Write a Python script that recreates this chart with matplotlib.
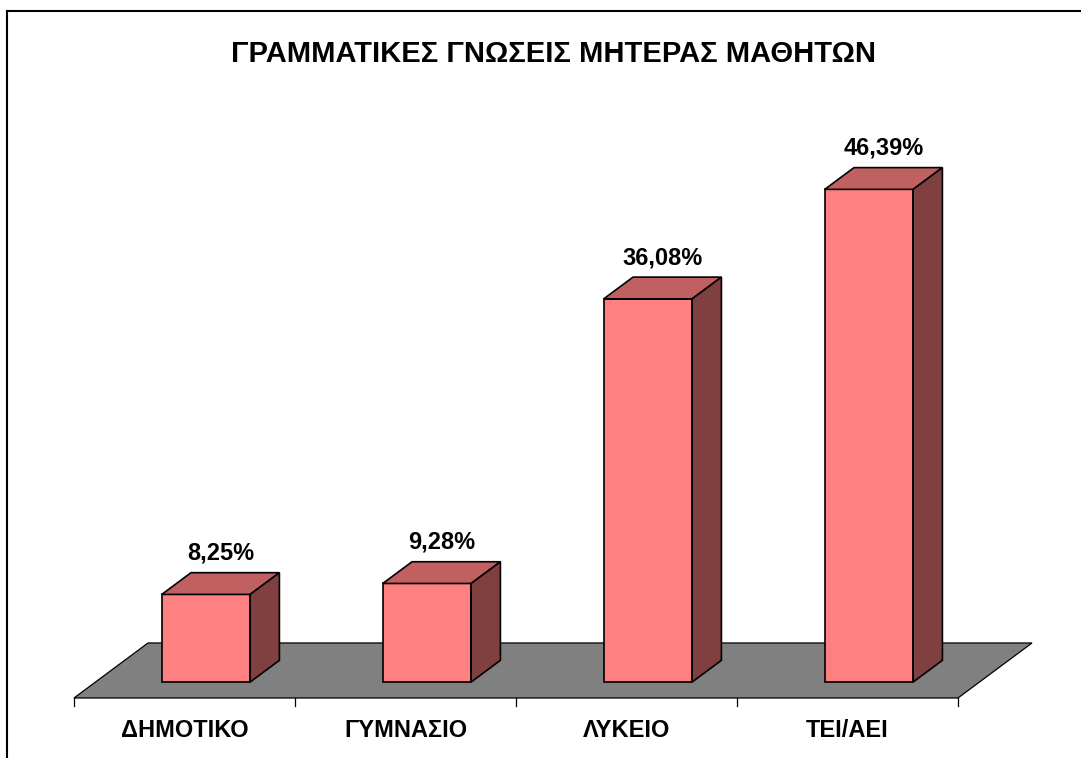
import matplotlib
matplotlib.use('Agg')
import matplotlib.pyplot as plt
from matplotlib.patches import Polygon
from matplotlib.lines import Line2D

plt.rcParams['font.family'] = ['Liberation Sans', 'DejaVu Sans']

# data
categories = ['ΔΗΜΟΤΙΚΟ', 'ΓΥΜΝΑΣΙΟ', 'ΛΥΚΕΙΟ', 'ΤΕΙ/ΑΕΙ']
values = [8.25, 9.28, 36.08, 46.39]
title = 'ΓΡΑΜΜΑΤΙΚΕΣ ΓΝΩΣΕΙΣ ΜΗΤΕΡΑΣ ΜΑΘΗΤΩΝ'

FRONT = '#FF8080'
TOP = '#C06060'
SIDE = '#804040'
FLOOR = '#808080'

# fake 3d projection: depth z (0 front .. 1 back) shifts x and y
DX = 0.335   # category units per unit depth
DY = 5.18    # percent units per unit depth
BAR_W = 0.40
Z0, Z1 = 0.29, 0.685


def proj(x, y, z):
    return (x + z * DX, y + z * DY)


fig = plt.figure(figsize=(10.81, 7.58), dpi=100)
ax = fig.add_axes([0, 0, 1, 1])
ax.set_xlim(-0.8348, 4.0566)
ax.set_ylim(-5.65, 65.72)
ax.axis('off')

n = len(categories)
x0, x1 = -0.5, n - 0.5

# floor
floor = [proj(x0, 0, 0), proj(x1, 0, 0), proj(x1, 0, 1), proj(x0, 0, 1)]
ax.add_patch(Polygon(floor, closed=True, facecolor=FLOOR, edgecolor='black', lw=0.9))

# ticks along the front edge
for i in range(n + 1):
    ax.plot([i - 0.5, i - 0.5], [0, -0.75], color='black', lw=0.9)

for i, (cat, v) in enumerate(zip(categories, values)):
    l, r = i - BAR_W / 2, i + BAR_W / 2
    front = [proj(l, 0, Z0), proj(r, 0, Z0), proj(r, v, Z0), proj(l, v, Z0)]
    top = [proj(l, v, Z0), proj(r, v, Z0), proj(r, v, Z1), proj(l, v, Z1)]
    side = [proj(r, 0, Z0), proj(r, 0, Z1), proj(r, v, Z1), proj(r, v, Z0)]
    ax.add_patch(Polygon(front, closed=True, facecolor=FRONT, edgecolor='black', lw=1.2))
    ax.add_patch(Polygon(top, closed=True, facecolor=TOP, edgecolor='black', lw=1.2))
    ax.add_patch(Polygon(side, closed=True, facecolor=SIDE, edgecolor='black', lw=1.2))

    lx, ly = proj(i, v, (Z0 + Z1) / 2)
    ax.text(lx, ly + 2.85, f'{v:.2f}'.replace('.', ',') + '%', ha='center', va='center',
            fontsize=17, fontweight='bold')
    ax.text(i, -3.1, cat, ha='center', va='center', fontsize=17, fontweight='bold')

fig.text(0.512, 0.929, title, ha='center', va='center', fontsize=21, fontweight='bold')

# chart area border (left and top only are visible)
fig.add_artist(Line2D([7 / 1081, 7 / 1081], [0, 1 - 11 / 758], color='black', lw=1.5))
fig.add_artist(Line2D([7 / 1081, 1], [1 - 11 / 758, 1 - 11 / 758], color='black', lw=1.5))

plt.savefig('out.png', dpi=100)
